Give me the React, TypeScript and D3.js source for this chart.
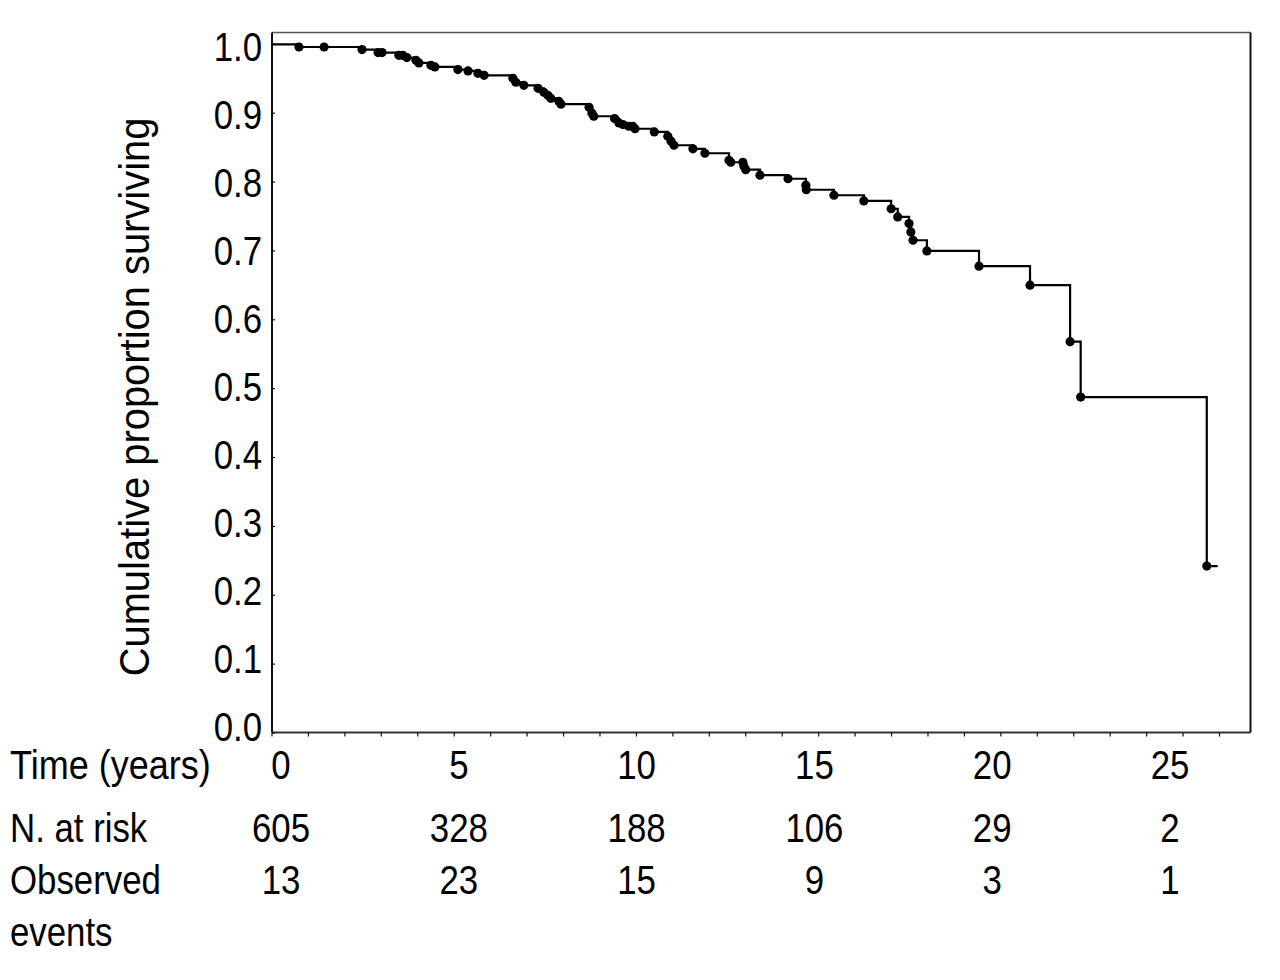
import React from "react";
import * as d3 from "d3";

// Kaplan-Meier step data (event time in years, survival after the event)
const eventTimes = [0.74, 2.47, 2.91, 3.48, 3.70, 3.95, 4.03, 4.36, 4.47, 5.10, 5.38, 5.65, 5.82, 6.61, 6.69, 6.91, 7.30, 7.46, 7.57, 7.65, 7.87, 7.93, 8.70, 8.78, 8.83, 9.40, 9.52, 9.63, 9.79, 9.96, 10.49, 10.86, 10.95, 11.03, 11.55, 11.88, 12.54, 12.59, 12.95, 13.00, 13.39, 14.16, 14.65, 14.66, 15.42, 16.24, 16.99, 17.17, 17.48, 17.53, 17.59, 17.97, 19.40, 20.80, 21.90, 22.19, 25.65];
const survival = [0.9961, 0.9923, 0.988, 0.984, 0.9807, 0.9768, 0.9729, 0.9695, 0.9671, 0.9633, 0.9613, 0.9579, 0.955, 0.9507, 0.9449, 0.9405, 0.9361, 0.9303, 0.926, 0.9216, 0.9173, 0.913, 0.9086, 0.9, 0.8955, 0.8922, 0.8858, 0.8835, 0.881, 0.8774, 0.8727, 0.8665, 0.8593, 0.8534, 0.8483, 0.8418, 0.8316, 0.8287, 0.8229, 0.8179, 0.8099, 0.8048, 0.7954, 0.7888, 0.7808, 0.7726, 0.7612, 0.7494, 0.7398, 0.7276, 0.7155, 0.700, 0.6778, 0.6502, 0.5682, 0.4877, 0.2424];
const lastFollowUp = 25.95;

// censored observation marks (years)
const censorTimes = [0.74, 1.43, 2.47, 2.91, 3.02, 3.48, 3.59, 3.70, 3.95, 4.03, 4.36, 4.47, 5.10, 5.38, 5.65, 5.82, 6.61, 6.69, 6.91, 7.30, 7.46, 7.57, 7.65, 7.87, 7.93, 8.70, 8.78, 8.83, 9.40, 9.52, 9.63, 9.79, 9.90, 9.96, 10.49, 10.86, 10.95, 11.03, 11.55, 11.88, 12.54, 12.59, 12.92, 12.95, 13.00, 13.39, 14.16, 14.65, 14.66, 15.42, 16.24, 16.99, 17.17, 17.48, 17.53, 17.59, 17.97, 19.40, 20.80, 21.90, 22.19, 25.65];

const xTicks = [0, 5, 10, 15, 20, 25];
const xMinorTicks = d3.range(0, 27, 1);
const yTicks = [0, 0.1, 0.2, 0.3, 0.4, 0.5, 0.6, 0.7, 0.8, 0.9, 1.0];
const nAtRisk = ["605", "328", "188", "106", "29", "2"];
const observedEvents = ["13", "23", "15", "9", "3", "1"];

const FONT = "'Liberation Sans', Arial, Helvetica, sans-serif";

function T({ x, y, anchor = "start", size = 40, sx = 0.87, children }: any) {
  return (
    <g transform={`translate(${x},${y}) scale(${sx},1)`}>
      <text x={0} y={0} textAnchor={anchor} fontSize={size} fontFamily={FONT} fill="#000">
        {children}
      </text>
    </g>
  );
}

export default function App() {
  const left = 272, right = 1250.5, top = 32.5, bottom = 732.5;
  const x = d3.scaleLinear().domain([0, 26.85]).range([left, right]);
  const y = d3.scaleLinear().domain([0, 1]).range([733, 44.3]);
  // text positions in the reference drift slightly from the ticks
  const xLab = d3.scaleLinear().domain([0, 25]).range([281, 1170]);
  const yLab = d3.scaleLinear().domain([0, 1]).range([727, 47]);

  const pts: [number, number][] = [[0, 1]];
  eventTimes.forEach((t, i) => pts.push([t, survival[i]]));
  pts.push([lastFollowUp, survival[survival.length - 1]]);
  const line = d3
    .line<[number, number]>()
    .x((d) => x(d[0]))
    .y((d) => y(d[1]))
    .curve(d3.curveStepAfter);

  const sAt = (t: number) => {
    let s = 1;
    eventTimes.forEach((et, i) => {
      if (et <= t + 1e-9) s = survival[i];
    });
    return s;
  };

  const capHalf = 14.3;

  return (
    <svg width={1280} height={980} style={{ display: "block", position: "absolute", left: 0, top: 0, background: "#fff" }}>
      <rect x={0} y={0} width={1280} height={980} fill="#fff" />
      {/* frame */}
      <line x1={left} x2={right} y1={top} y2={top} stroke="#555" strokeWidth={1.5} />
      <line x1={right} x2={right} y1={top} y2={bottom} stroke="#111" strokeWidth={2} />
      <line x1={left} x2={left} y1={top} y2={bottom} stroke="#111" strokeWidth={2} />
      <line x1={left} x2={right} y1={bottom} y2={bottom} stroke="#333" strokeWidth={2.2} />

      {/* y ticks (inside) */}
      {yTicks.map((v) => (
        <line key={"yt" + v} x1={left} x2={left + 3} y1={y(v)} y2={y(v)} stroke="#111" strokeWidth={1.2} />
      ))}
      {/* x ticks (outside) */}
      {xMinorTicks.map((v) => (
        <line key={"xt" + v} x1={x(v)} x2={x(v)} y1={bottom} y2={bottom + 4} stroke="#111" strokeWidth={1.2} />
      ))}

      {/* y tick labels */}
      {yTicks.map((v) => (
        <T key={"yl" + v} x={262} y={yLab(v) + capHalf} anchor="end">
          {v.toFixed(1)}
        </T>
      ))}

      {/* y title */}
      <g transform={`translate(149,397) rotate(-90)`}>
        <g transform="scale(0.95,1)">
          <text x={0} y={0} textAnchor="middle" fontSize={42} fontFamily={FONT} fill="#000">
            Cumulative proportion surviving
          </text>
        </g>
      </g>

      {/* KM curve */}
      <path d={line(pts) || ""} fill="none" stroke="#000" strokeWidth={2.2} />
      {censorTimes.map((t, i) => (
        <circle key={"c" + i} cx={x(t)} cy={y(sAt(t))} r={4.6} fill="#000" />
      ))}

      {/* x tick labels and risk table */}
      <T x={10} y={779} sx={0.9}>Time (years)</T>
      {xTicks.map((v) => (
        <T key={"xl" + v} x={xLab(v)} y={779} anchor="middle">
          {String(v)}
        </T>
      ))}
      <T x={10} y={842}>N. at risk</T>
      {nAtRisk.map((v, i) => (
        <T key={"nr" + i} x={xLab(xTicks[i])} y={842} anchor="middle">
          {v}
        </T>
      ))}
      <T x={10} y={894}>Observed</T>
      {observedEvents.map((v, i) => (
        <T key={"oe" + i} x={xLab(xTicks[i])} y={894} anchor="middle">
          {v}
        </T>
      ))}
      <T x={10} y={946}>events</T>
    </svg>
  );
}
